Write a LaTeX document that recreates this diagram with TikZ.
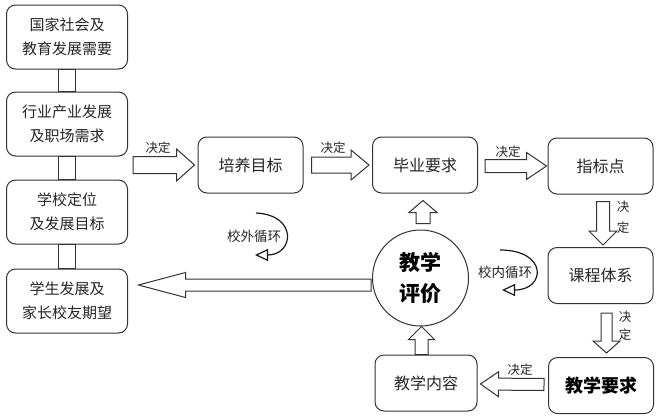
\documentclass[tikz,border=0pt]{standalone}
\usepackage{fontspec}
\setmainfont{Noto Sans CJK SC}
\usetikzlibrary{calc,arrows.meta}
\tikzset{
  box/.style={draw=black!80, line width=1pt, rounded corners=9pt, inner sep=0pt, align=center, text=black!85},
  lbox/.style={box, minimum width=121pt, minimum height=64pt, font=\fontsize{15}{24}\selectfont},
  rbox/.style={box, minimum width=105pt, minimum height=56pt, font=\fontsize{16}{20}\selectfont},
  blk/.style={draw=black!80, line width=1pt, fill=white},
  lbl/.style={font=\fontsize{12.5}{14}\selectfont, inner sep=0pt, text=black!85},
  looplbl/.style={font=\fontsize{13.5}{15}\selectfont, inner sep=0pt, text=black!85},
  looparrow/.style={draw=black!90, line width=1.2pt, -{Triangle[open,length=13pt,width=12pt]}},
}
\newcommand\barrow[5]{%
  \coordinate (bs) at #1; \coordinate (be) at #2;
  \coordinate (bb) at ($(be)!#5!(bs)$);
  \draw[blk] ($(bs)!#3!90:(be)$) -- ($(bb)!#3!90:(be)$) -- ($(bb)!#4!90:(be)$) -- (be)
    -- ($(bb)!#4!-90:(be)$) -- ($(bb)!#3!-90:(be)$) -- ($(bs)!#3!-90:(be)$) -- cycle;}
\begin{document}
\begin{tikzpicture}[x=1pt,y=-1pt]
\useasboundingbox[fill=white] (0,0) rectangle (660,415);
% left column
\node[lbox] (b1) at (67,37) {国家社会及\\教育发展需要};
\node[lbox] (b2) at (67,124) {行业产业发展\\及职场需求};
\node[lbox] (b3) at (67,212) {学校定位\\及发展目标};
\node[lbox] (b4) at (67,301) {学生发展及\\家长校友期望};
\draw[blk] ($(b1.south)+(-8.5,0)$) rectangle ($(b2.north)+(8.5,0)$);
\draw[blk] ($(b2.south)+(-8.5,0)$) rectangle ($(b3.north)+(8.5,0)$);
\draw[blk] ($(b3.south)+(-8.5,0)$) rectangle ($(b4.north)+(8.5,0)$);
% right boxes
\node[rbox] (pymb) at (250.5,165) {培养目标};
\node[rbox] (bysq) at (425,165) {毕业要求};
\node[rbox] (zbd) at (600.5,166) {指标点};
\node[rbox] (kctx) at (600.5,275.5) {课程体系};
\node[rbox, font=\bfseries\fontsize{18}{20}\selectfont, text=black] (jxyq) at (601,385.5) {教学要求};
\node[rbox, minimum width=102pt] (jxnr) at (426,383) {教学内容};
\node[circle, draw=black!80, line width=1pt, minimum size=96pt, inner sep=0pt, align=center,
      font=\bfseries\fontsize{21}{31}\selectfont] (pj) at (420.5,278) {教学\\评价};
% block arrows
\barrow{($(b2.east |- pymb.west)+(5,0)$)}{($(pymb.west)+(-3,0)$)}{8.5pt}{16pt}{18pt}
\barrow{($(pymb.east)+(8,0)$)}{($(bysq.west)+(-3,0)$)}{8pt}{15pt}{18pt}
\barrow{($(bysq.east)+(7,1)$)}{($(zbd.west)+(-1,0)$)}{6.5pt}{13.5pt}{20pt}
\barrow{($(zbd.south)+(2.5,7)$)}{($(kctx.north)+(2.5,-2)$)}{6.5pt}{14pt}{14pt}
\barrow{($(kctx.south)+(6,9)$)}{($(jxyq.north)+(5.5,-4)$)}{5.5pt}{13.5pt}{12pt}
\barrow{($(jxyq.west)+(-4,-1)$)}{($(jxnr.east)+(3,1)$)}{6pt}{12.5pt}{18pt}
\barrow{($(jxnr.north)+(-4.5,0)$)}{($(pj.south)+(1,0)$)}{6.5pt}{13pt}{13pt}
\barrow{($(pj.north)+(2.5,-6)$)}{($(bysq.south)+(-2,7)$)}{7pt}{14pt}{12pt}
\barrow{($(pj.west)+(-1,7)$)}{($(b4.east)+(10.5,-16)$)}{6pt}{12.5pt}{47pt}
% labels
\node[lbl] (l1) at (158,148) {决定};
\node[lbl] (l2) at (333,148) {决定};
\node[lbl] (l3) at (508,152) {决定};
\node[lbl] (l4a) at (623,207) {决};
\node[lbl] (l4b) at (623,228) {定};
\node[lbl] (l5a) at (625,317) {决};
\node[lbl] (l5b) at (625,335) {定};
\node[lbl] (l6) at (520,370) {决定};
% loops
\draw[looparrow] (256,213) .. controls (298,215) and (294,255) .. (255,255);
\node[looplbl] (wxh) at (254,236) {校外循环};
\draw[looparrow] (500,250) .. controls (548,250) and (546,290) .. (502,290);
\node[looplbl] (nxh) at (505,272) {校内循环};
\end{tikzpicture}
\end{document}
